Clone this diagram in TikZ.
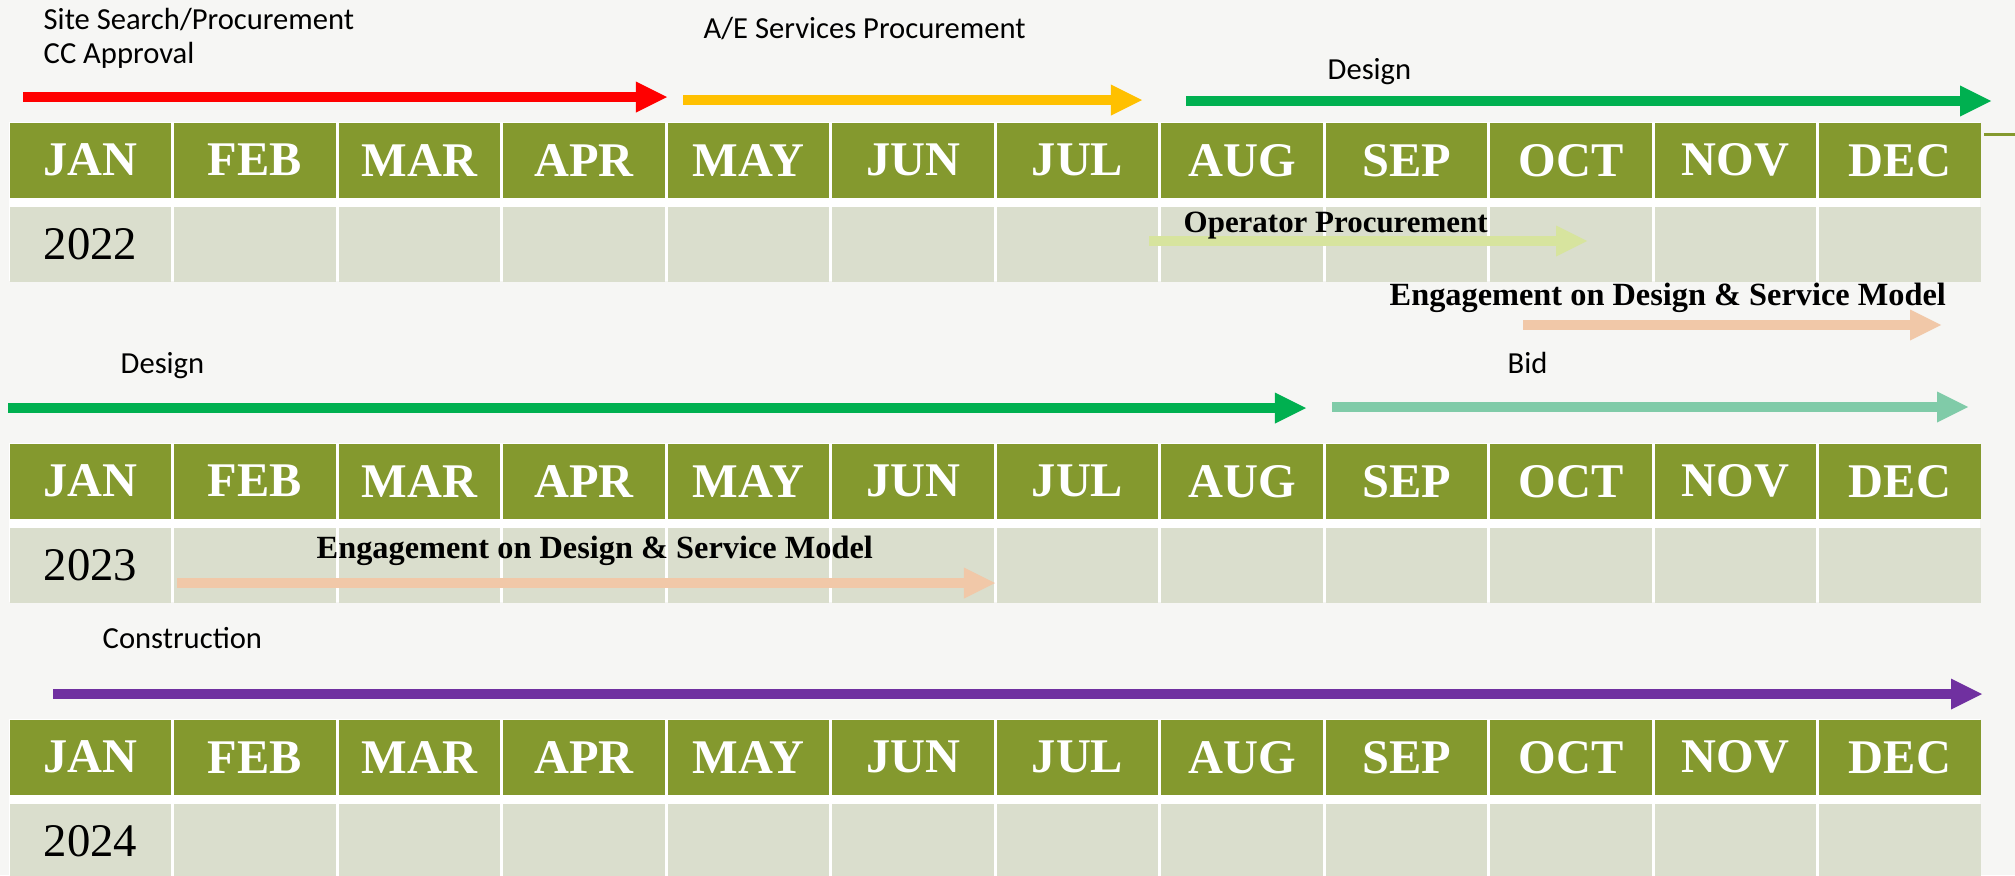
\documentclass[tikz,border=0pt]{standalone}
\usepackage{fontspec}
\setmainfont{Liberation Serif}
\newfontfamily\calib{Carlito}
\usetikzlibrary{arrows.meta}
\definecolor{bgc}{RGB}{246,246,244}
\definecolor{olivec}{RGB}{132,153,46}
\definecolor{cellc}{RGB}{218,222,205}
\definecolor{redc}{RGB}{255,0,0}
\definecolor{orangec}{RGB}{255,192,0}
\definecolor{greenc}{RGB}{0,176,80}
\definecolor{lgreenc}{RGB}{215,228,158}
\definecolor{peachc}{RGB}{241,200,168}
\definecolor{mintc}{RGB}{128,203,168}
\definecolor{purplec}{RGB}{112,48,160}
\begin{document}
\begin{tikzpicture}[x=0.01cm,y=-0.01cm,
  hdr/.style={fill=olivec, draw=none, minimum width=1.615cm, minimum height=0.75cm, inner sep=0pt, anchor=north west, text=white, font=\bfseries\fontsize{13.75}{15}\selectfont},
  datc/.style={fill=cellc, draw=none, minimum width=1.615cm, minimum height=0.75cm, inner sep=0pt, anchor=north west, text=black, font=\fontsize{13.3}{15}\selectfont},
  bar/.style={line width=0.105cm, -{Triangle[length=0.31cm,width=0.31cm,line width=0pt]}},
  lab/.style={font=\calib\fontsize{8.7}{10}\selectfont, inner sep=0pt, anchor=base west},
  blab/.style={font=\bfseries\fontsize{9.2}{11}\selectfont, inner sep=0pt, anchor=base west}]
\useasboundingbox (0,0) rectangle (2015,875);
\clip (0,0) rectangle (2015,875);
\fill[bgc] (0,0) rectangle (2015,875);
% tables
\foreach \t/\top/\yr in {1/122/2022, 2/443/2023, 3/719/2024}{
  \fill[white] (9,\top) rectangle (1980,\top+159);
  \foreach \m [count=\i from 0] in {JAN,FEB,MAR,APR,MAY,JUN,JUL,AUG,SEP,OCT,NOV,DEC}{
    \pgfmathsetmacro\xx{9+164.5*\i}
    \node[hdr] (t\t h\i) at (\xx,\top) {\m};
    \ifnum\i=0
      \node[datc] (t\t d\i) at (\xx,\top+84) {\yr};
    \else
      \node[datc] (t\t d\i) at (\xx,\top+84) {};
    \fi
  }
}
% small olive stub right of 2022 header
\coordinate (s1) at (1984,134);
\coordinate (s2) at (2015,134);
\draw[olivec, line width=0.03cm] (s1) -- (s2);
% 2022 arrows
\coordinate (r1) at (23,97);   \coordinate (r2) at (667,97);
\draw[bar, redc] (r1) -- (r2);
\coordinate (o1) at (683,100); \coordinate (o2) at (1142,100);
\draw[bar, orangec] (o1) -- (o2);
\coordinate (g1) at (1186,101); \coordinate (g2) at (1991,101);
\draw[bar, greenc] (g1) -- (g2);
\coordinate (op1) at (1149,241); \coordinate (op2) at (1587,241);
\draw[bar, lgreenc] (op1) -- (op2);
\coordinate (e1) at (1523,325); \coordinate (e2) at (1941,325);
\draw[bar, peachc] (e1) -- (e2);
% 2023 arrows
\coordinate (d1) at (8,408); \coordinate (d2) at (1306,408);
\draw[bar, greenc] (d1) -- (d2);
\coordinate (b1) at (1332,407); \coordinate (b2) at (1968,407);
\draw[bar, mintc] (b1) -- (b2);
\coordinate (f1) at (177,583); \coordinate (f2) at (995,583);
\draw[bar, peachc] (f1) -- (f2);
% 2024 arrow
\coordinate (c1) at (53,694); \coordinate (c2) at (1982,694);
\draw[bar, purplec] (c1) -- (c2);
% labels
\node[lab] (l1) at (43,29) {Site Search/Procurement};
\node[lab] (l2) at (43,63) {CC Approval};
\node[lab] (l3) at (703,38) {A/E Services Procurement};
\node[lab] (l4) at (1327,79) {Design};
\node[blab, font=\bfseries\fontsize{8.8}{10}\selectfont] (l5) at (1183,232) {Operator Procurement};
\node[blab] (l6) at (1389,305) {Engagement on Design \& Service Model};
\node[lab] (l7) at (120,373) {Design};
\node[lab] (l8) at (1507,373) {Bid};
\node[blab] (l9) at (316,558) {Engagement on Design \& Service Model};
\node[lab] (l10) at (102,648) {Construction};
\end{tikzpicture}
\end{document}
